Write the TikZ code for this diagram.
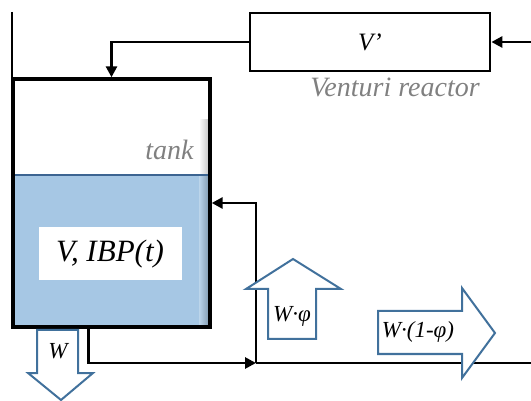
\documentclass[tikz,border=0pt]{standalone}
\usepackage{fontspec}
\setmainfont{Liberation Serif}
\newfontfamily\diagfont{Liberation Serif}
\usetikzlibrary{arrows.meta, positioning, calc}
\definecolor{tankblue}{RGB}{166, 199, 228}
\definecolor{surfblue}{RGB}{60, 100, 145}
\definecolor{flowblue}{RGB}{65, 113, 156}
\definecolor{labelgray}{RGB}{128, 128, 128}

\begin{document}
\begin{tikzpicture}[
        x=1pt, y=-1pt,
        vessel/.style={draw=black, line width=3.4pt, minimum width=197pt, minimum height=248pt},
        unit/.style={draw=black, line width=2.8pt, minimum width=240pt, minimum height=58pt, font=\diagfont\fontsize{25}{28}\selectfont\itshape},
        state/.style={fill=white, minimum width=143pt, minimum height=53pt, font=\diagfont\fontsize{31}{34}\selectfont\itshape},
        tag/.style={text=labelgray, font=\diagfont\fontsize{28}{31}\selectfont\itshape},
        flow/.style={draw=flowblue, fill=white, line width=2pt, line join=miter},
        flowtxt/.style={font=\diagfont\fontsize{23}{26}\selectfont\itshape},
        pipe/.style={line width=2.8pt},
        arr/.style={pipe, -{Triangle[length=11pt, width=11pt]}}
      ]
        \useasboundingbox (0,0) rectangle (531,401);
        % liquid in the tank
        \fill[tankblue] (13,175) rectangle (210,327);
        \shade[left color=white, right color=black, opacity=0.25] (199,120) rectangle (210,327);
        \draw[surfblue, line width=1.6pt] (13,175) -- (210,175);
        \draw[line width=1.4pt] (12,12) -- (12,79);
        \node[vessel] (tank) at (111.5,203) {};
        \node[state] (vol) at (110,254) {V, IBP(t)};
        \node[tag, anchor=east] (tanklbl) at (197,150) {tank};
        % reactor
        \node[unit] (venturi) at (370,42) {V’};
        \node[tag, below=2pt of venturi, xshift=25pt] (venturilbl) {Venturi reactor};
        \coordinate (feed) at (531,42);
        \draw[arr] (feed) -- (venturi.east);
        \draw[arr] (venturi.west) -| (tank.north);
        % outlet and recycle
        \coordinate (outlet) at ([xshift=-23pt]tank.south);
        \coordinate (split) at (256,363);
        \coordinate (drain) at (531,363);
        \draw[arr] (outlet) |- (split);
        \draw[pipe] (split) -- (drain);
        \draw[arr] (split) |- (tank.east);
        % flow arrows
        \draw[flow] (268,339) -- (268,289) -- (246,289) -- (293,259) -- (341,289) -- (316,289) -- (316,339) -- cycle;
        \node[flowtxt] (recyc) at (292,316) {W·φ};
        \draw[flow] (378,311) -- (462,311) -- (462,288) -- (495,333) -- (462,378) -- (462,354) -- (378,354) -- cycle;
        \node[flowtxt] (purge) at (418,332) {W·(1-φ)};
        \draw[flow] (37,330) -- (78,330) -- (78,373) -- (93,373) -- (61,400) -- (28,373) -- (37,373) -- cycle;
        \node[flowtxt] (out) at (58,351) {W};
      \end{tikzpicture}
\end{document}
